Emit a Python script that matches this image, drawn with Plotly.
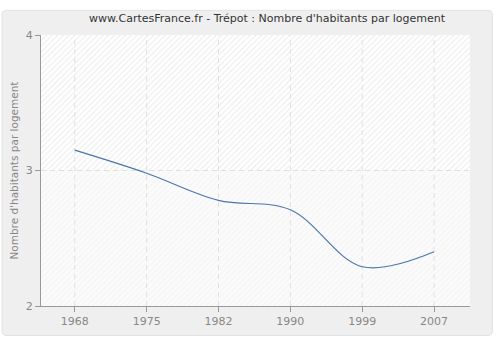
import plotly.graph_objects as go

# Census years and average household size
years = ["1968", "1975", "1982", "1990", "1999", "2007"]
habitants_par_logement = [3.15, 2.98, 2.78, 2.71, 2.29, 2.40]
y_ticks = [2, 3, 4]

x_idx = list(range(len(years)))
x_lo, x_hi = -0.47, 5.5
y_lo, y_hi = 2, 4

fig = go.Figure()

# Hatched plot background: denser in the upper band, lighter below
fig.add_trace(go.Scatter(
    x=[x_lo, x_hi, x_hi, x_lo, x_lo], y=[3, 3, 4, 4, 3],
    fill="toself", mode="none", hoverinfo="skip", showlegend=False,
    fillcolor="rgba(0,0,0,0)",
    fillpattern=dict(shape="/", size=4, solidity=0.3,
                     fgcolor="#dedede", bgcolor="#ffffff"),
))
fig.add_trace(go.Scatter(
    x=[x_lo, x_hi, x_hi, x_lo, x_lo], y=[2, 2, 3, 3, 2],
    fill="toself", mode="none", hoverinfo="skip", showlegend=False,
    fillcolor="rgba(0,0,0,0)",
    fillpattern=dict(shape="/", size=4, solidity=0.3,
                     fgcolor="#eeeeee", bgcolor="#fbfbfb"),
))

# Dashed grid drawn over the hatching
grid_style = dict(color="#e0e0e0", width=1, dash="5px,4px")
for xv in x_idx:
    fig.add_trace(go.Scatter(x=[xv, xv], y=[y_lo, y_hi], mode="lines", line=grid_style,
                             hoverinfo="skip", showlegend=False))
for yv in y_ticks[1:-1]:
    fig.add_trace(go.Scatter(x=[x_lo, x_hi], y=[yv, yv], mode="lines", line=grid_style,
                             hoverinfo="skip", showlegend=False))

fig.add_trace(go.Scatter(
    x=x_idx, y=habitants_par_logement,
    mode="lines", line=dict(color="#4a76ad", width=1.2, shape="spline", smoothing=1),
    showlegend=False, hoverinfo="skip",
))

fig.update_layout(
    width=500, height=340,
    margin=dict(l=41, r=30, t=35, b=30),
    paper_bgcolor="#ffffff",
    plot_bgcolor="#fbfbfb",
    font=dict(family="DejaVu Sans", size=11, color="#888888"),
    shapes=[dict(type="path", xref="paper", yref="paper", layer="below",
                 path="M -0.0793,1.0909 L 1.0408,1.0909 Q 1.0524,1.0909 1.0524,1.0727 "
                      "L 1.0524,-0.0909 Q 1.0524,-0.1091 1.0408,-0.1091 "
                      "L -0.0793,-0.1091 Q -0.0909,-0.1091 -0.0909,-0.0909 "
                      "L -0.0909,1.0727 Q -0.0909,1.0909 -0.0793,1.0909 Z",
                 fillcolor="#efefef", line=dict(color="#e2e2e2", width=1))],
    annotations=[
        dict(text="www.CartesFrance.fr - Trépot : Nombre d'habitants par logement",
             xref="paper", yref="paper", x=0.527, y=1.0618, xanchor="center", yanchor="middle",
             showarrow=False, font=dict(size=11, color="#333333")),
        dict(text="Nombre d'habitants par logement", textangle=-90,
             xref="paper", yref="paper", x=-0.065, y=0.5, xanchor="center", yanchor="middle",
             showarrow=False, font=dict(size=10.5, color="#888888")),
    ],
)

fig.update_xaxes(
    range=[x_lo, x_hi], tickmode="array", tickvals=x_idx, ticktext=years,
    showgrid=False, showline=True, linecolor="#999999", linewidth=1,
    ticks="outside", ticklen=5, tickcolor="#999999", zeroline=False,
    tickfont=dict(size=11, color="#888888"),
)
fig.update_yaxes(
    range=[y_lo, y_hi], tickmode="array", tickvals=y_ticks, ticktext=[str(v) for v in y_ticks],
    showgrid=False, showline=True, linecolor="#999999", linewidth=1,
    ticks="outside", ticklen=5, tickcolor="#999999", zeroline=False,
    tickfont=dict(size=11, color="#888888"),
)

fig.write_html("out.html")
